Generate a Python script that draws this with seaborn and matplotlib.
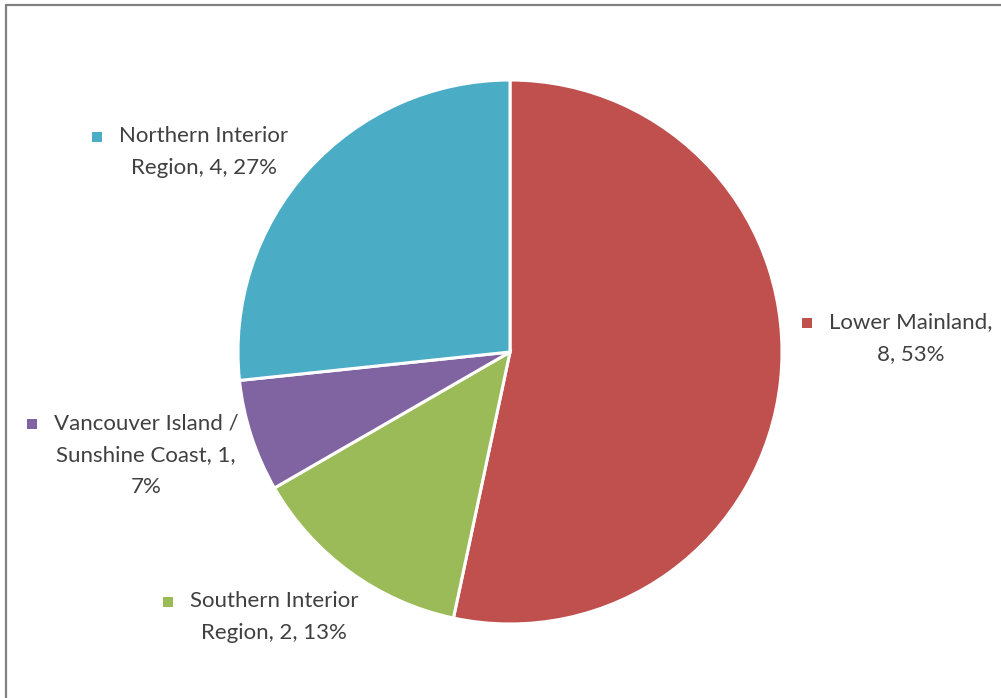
# %%
import textwrap
import seaborn as sns
import matplotlib.pyplot as plt
from matplotlib.lines import Line2D

sns.set_theme(style="white")
plt.rcParams['font.family'] = ['Lato', 'DejaVu Sans']

# %%
regions = ["Lower Mainland", "Southern Interior Region",
           "Vancouver Island / Sunshine Coast", "Northern Interior Region"]
counts = [8, 2, 1, 4]
colors = ["#C0504D", "#9BBB59", "#8064A2", "#4BACC6"]

# wrap width and label block centre (pixels from top-left) for each slice
wrap_w = [15, 17, 18, 17]
label_xy = [(911, 338), (274, 617), (146, 455), (204, 152)]
FS = 16

# %%
fig = plt.figure(figsize=(10.01, 6.98), dpi=100)
ax = fig.add_axes([0, 0, 1, 1])

# y axis is flipped -> counterclock=True gives clockwise on screen
wedges, _ = ax.pie(counts, colors=colors, startangle=-90, counterclock=True,
                   center=(510, 352), radius=272, frame=True,
                   wedgeprops=dict(edgecolor='white', linewidth=2.2))
ax.set_xlim(0, 1001)
ax.set_ylim(698, 0)
ax.axis('off')

total = sum(counts)
labels = []
for name, n, col, w, (x, y) in zip(regions, counts, colors, wrap_w, label_xy):
    txt = textwrap.fill(f"{name}, {n}, {round(100 * n / total)}%", width=w)
    t = ax.text(x, y, txt, ha='center', va='center', fontsize=FS,
                color='#404040', linespacing=1.72)
    labels.append((t, txt.split('\n')[0], col))

# colour key square in front of the first line of each label
fig.canvas.draw()
r = fig.canvas.get_renderer()
for t, first, col in labels:
    bb = t.get_window_extent(r)
    probe = ax.text(0, 0, first, fontsize=FS)
    pb = probe.get_window_extent(r)
    probe.remove()
    x0 = (bb.x0 + bb.x1) / 2 - pb.width / 2
    ytop = fig.bbox.height - bb.y1
    ax.scatter([x0 - 22], [ytop + pb.height / 2 + 1], marker='s', s=45,
               color=col, linewidths=0, clip_on=False)

# chart area frame (only top and left edges visible)
fig.add_artist(Line2D([6 / 1001, 6 / 1001], [0, 1 - 5 / 698],
                      transform=fig.transFigure, color='#808080', lw=1.6))
fig.add_artist(Line2D([6 / 1001, 1], [1 - 5 / 698, 1 - 5 / 698],
                      transform=fig.transFigure, color='#808080', lw=1.6))

fig.savefig('out.png', dpi=100, facecolor='white')
